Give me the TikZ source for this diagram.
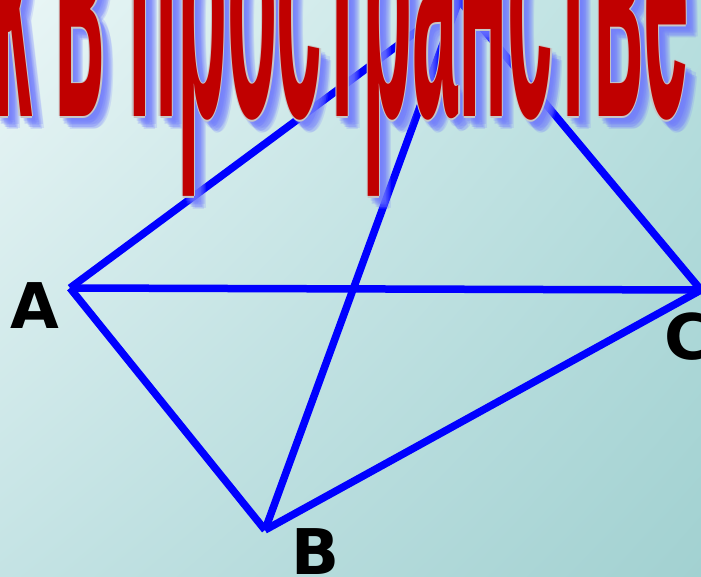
\documentclass[tikz,border=0pt]{standalone}
\usepackage{fontspec}
\usetikzlibrary{shadings}
\newfontfamily\titlefont{Liberation Sans}
\newfontfamily\labelfont{DejaVu Sans}
\definecolor{bgA}{RGB}{234,246,246}
\definecolor{bgB}{RGB}{184,223,223}
\definecolor{bgC}{RGB}{196,227,228}
\definecolor{bgD}{RGB}{162,209,209}
\definecolor{titlered}{RGB}{192,0,0}
\definecolor{glow}{RGB}{110,120,255}
\definecolor{edgeblue}{RGB}{0,0,255}
\newcommand{\titletext}{\scalebox{8.2}[38.5]{\titlefont\bfseries\fontsize{10pt}{12pt}\selectfont к в пространстве}}
\tikzset{
  edge/.style={draw=edgeblue, line width=7.5pt},
  vlabel/.style={font=\labelfont\bfseries\fontsize{63pt}{70pt}\selectfont, inner sep=0pt, anchor=base, text=black},
  titlestyle/.style={inner sep=0pt, anchor=base west}
}
\begin{document}
\begin{tikzpicture}[x=1pt,y=-1pt]
\useasboundingbox (0,0) rectangle (701,577);
\clip (0,0) rectangle (701,577);
\shade[upper left=bgA, upper right=bgB, lower left=bgC, lower right=bgD] (0,0) rectangle (701,577);
% vertices
\coordinate (A) at (70,288);
\coordinate (B) at (265,530);
\coordinate (C) at (701,290);
\coordinate (D) at (459,0);
% edges
\draw[edge] (A) -- (C);
\draw[edge] (A) -- (B);
\draw[edge] (B) -- (C);
\draw[edge] (A) -- (D);
\draw[edge] (B) -- (D);
\draw[edge] (C) -- (D);
% labels
\node[vlabel] (la) at (35,328) {A};
\node[vlabel] (lb) at (316,574) {B};
\node[vlabel] (lc) at (688,359) {C};
% title glow
\foreach \dx/\dy in {3/5,5/7,7/9,9/11,11/8,8/11,6/4,4/8,10/13,12/12,7/6}{
  \node[titlestyle, text=glow, opacity=0.18] at (-9+\dx,117+\dy) {\titletext};
}
% outline
\foreach \dx/\dy in {-1.3/0,1.3/0,0/-1.3,0/1.3}{
  \node[titlestyle, text=black!22] at (-9+\dx,117+\dy) {\titletext};
}
\node[titlestyle, text=titlered] (title) at (-9,117) {\titletext};
\end{tikzpicture}
\end{document}
